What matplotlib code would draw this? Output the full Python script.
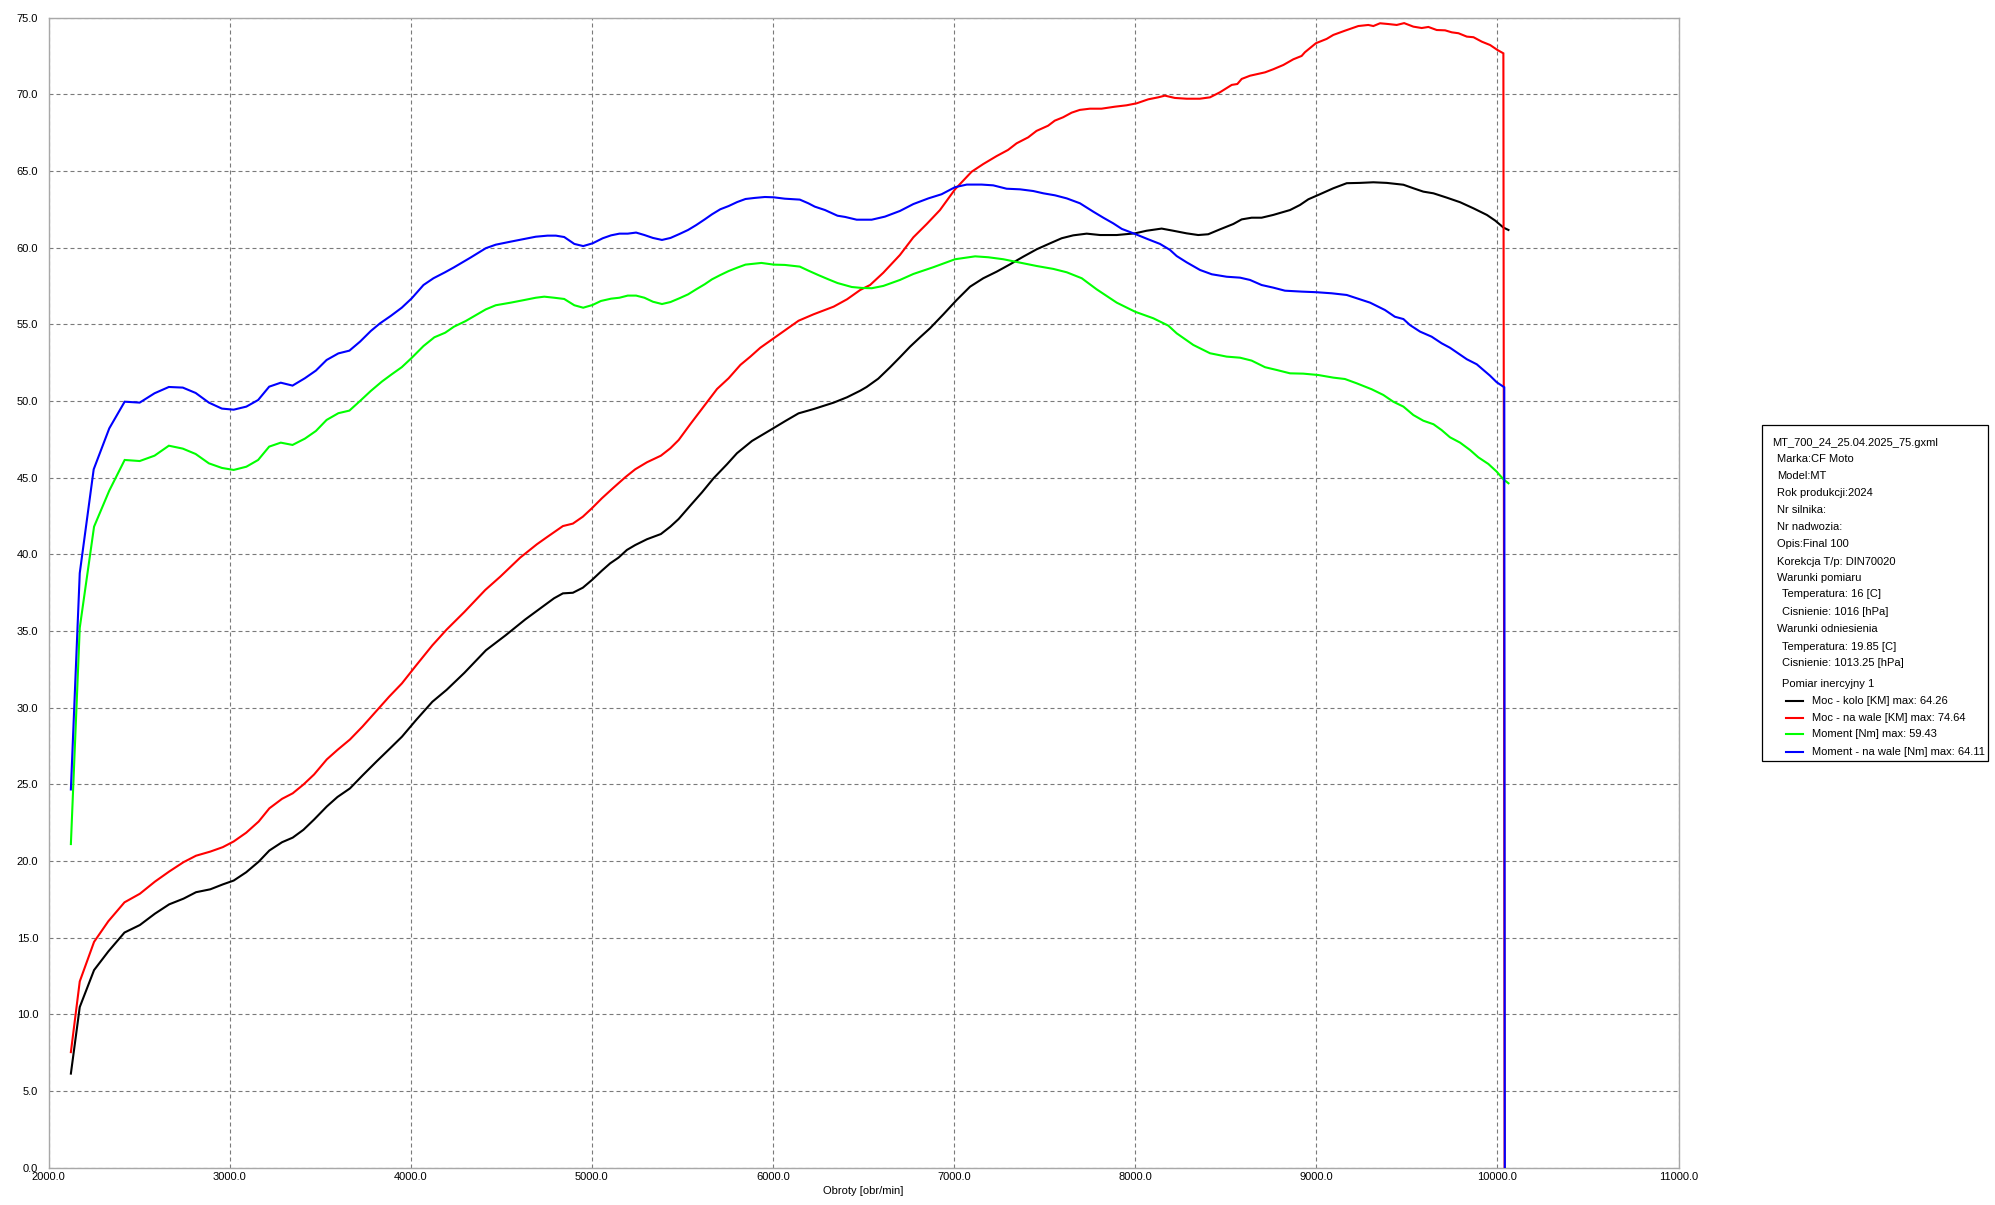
import matplotlib
matplotlib.use("Agg")
import matplotlib.pyplot as plt
from matplotlib.lines import Line2D
from matplotlib.patches import Rectangle
from matplotlib.ticker import MultipleLocator, FormatStrFormatter

plt.rcParams['font.family'] = ['Liberation Sans', 'DejaVu Sans']

# ---------------- data ----------------
black_rpm = [2123, 2172, 2251, 2330, 2419, 2504, 2587, 2666, 2745, 2814, 2893, 2962, 3022, 3091, 3160, 3219,
             3289, 3348, 3407, 3466, 3536, 3595, 3664, 3733, 3812, 3881, 3951, 4030, 4119, 4198, 4296, 4415,
             4524, 4632, 4731, 4791, 4840, 4895, 4950, 5000, 5055, 5101, 5147, 5193, 5239, 5304, 5381, 5433,
             5479, 5543, 5608, 5672, 5746, 5801, 5884, 5995, 6068, 6141, 6224, 6335, 6409, 6482, 6517, 6581,
             6646, 6701, 6757, 6812, 6867, 6941, 7014, 7088, 7161, 7235, 7309, 7382, 7456, 7530, 7594, 7658,
             7732, 7806, 7898, 7999, 8063, 8146, 8210, 8284, 8348, 8403, 8468, 8542, 8588, 8643, 8698, 8762,
             8855, 8910, 8956, 9020, 9094, 9168, 9241, 9315, 9389, 9481, 9536, 9591, 9647, 9720, 9794, 9868,
             9942, 9988, 10034, 10061]
black_val = [6.13, 10.47, 12.88, 14.1, 15.33, 15.82, 16.56, 17.17, 17.54, 17.96, 18.15, 18.47, 18.72, 19.26,
             19.95, 20.68, 21.22, 21.52, 22.03, 22.7, 23.55, 24.17, 24.73, 25.57, 26.5, 27.29, 28.1, 29.2,
             30.38, 31.16, 32.27, 33.74, 34.72, 35.75, 36.61, 37.13, 37.45, 37.49, 37.82, 38.32, 38.93, 39.41,
             39.78, 40.28, 40.6, 40.98, 41.32, 41.8, 42.3, 43.17, 44.04, 44.96, 45.87, 46.59, 47.39, 48.17,
             48.69, 49.19, 49.47, 49.89, 50.24, 50.67, 50.91, 51.45, 52.19, 52.85, 53.54, 54.15, 54.74, 55.65,
             56.58, 57.45, 58.0, 58.43, 58.91, 59.41, 59.89, 60.28, 60.61, 60.8, 60.91, 60.82, 60.82, 60.93,
             61.1, 61.24, 61.1, 60.93, 60.82, 60.87, 61.19, 61.54, 61.84, 61.95, 61.95, 62.13, 62.45, 62.78,
             63.15, 63.48, 63.87, 64.2, 64.22, 64.26, 64.22, 64.1, 63.87, 63.65, 63.54, 63.26, 62.96, 62.56,
             62.13, 61.76, 61.3, 61.15]

red_rpm = [2123, 2172, 2251, 2330, 2419, 2504, 2587, 2666, 2745, 2814, 2893, 2962, 3022, 3091, 3160, 3219,
           3289, 3348, 3407, 3466, 3536, 3595, 3664, 3733, 3812, 3881, 3951, 4030, 4119, 4198, 4296, 4411,
           4494, 4604, 4696, 4751, 4840, 4895, 4950, 5000, 5055, 5119, 5184, 5239, 5304, 5381, 5433, 5479,
           5543, 5617, 5691, 5755, 5820, 5875, 5930, 6003, 6068, 6141, 6224, 6335, 6409, 6482, 6536, 6609,
           6701, 6775, 6849, 6922, 7005, 7097, 7161, 7235, 7298, 7345, 7409, 7455, 7519, 7556, 7602, 7649,
           7694, 7750, 7814, 7888, 7952, 8008, 8072, 8127, 8164, 8219, 8284, 8357, 8413, 8468, 8533, 8564,
           8588, 8634, 8717, 8762, 8818, 8873, 8919, 8937, 8998, 9057, 9094, 9159, 9232, 9287, 9315, 9352,
           9398, 9444, 9485, 9536, 9582, 9619, 9665, 9711, 9748, 9785, 9831, 9868, 9914, 9960, 10000, 10033,
           10040]
red_val = [7.53, 12.14, 14.72, 16.07, 17.3, 17.86, 18.65, 19.31, 19.92, 20.34, 20.61, 20.9, 21.27, 21.84,
           22.57, 23.43, 24.05, 24.41, 24.98, 25.64, 26.62, 27.24, 27.92, 28.76, 29.81, 30.72, 31.58, 32.76,
           34.06, 35.09, 36.24, 37.67, 38.54, 39.78, 40.65, 41.11, 41.84, 42.0, 42.45, 43.0, 43.65, 44.34,
           45.02, 45.54, 46.0, 46.43, 46.91, 47.45, 48.48, 49.63, 50.78, 51.48, 52.35, 52.89, 53.47, 54.08,
           54.63, 55.23, 55.65, 56.15, 56.63, 57.24, 57.56, 58.36, 59.52, 60.67, 61.54, 62.45, 63.8, 64.95,
           65.45, 65.97, 66.37, 66.8, 67.19, 67.61, 67.95, 68.28, 68.5, 68.8, 68.98, 69.06, 69.06, 69.19,
           69.28, 69.41, 69.67, 69.8, 69.91, 69.76, 69.71, 69.71, 69.8, 70.13, 70.61, 70.67, 71.0, 71.21,
           71.43, 71.63, 71.91, 72.28, 72.5, 72.74, 73.33, 73.61, 73.87, 74.15, 74.45, 74.52, 74.45, 74.63,
           74.58, 74.52, 74.64, 74.41, 74.32, 74.39, 74.19, 74.17, 74.04, 73.98, 73.76, 73.72, 73.43, 73.21,
           72.89, 72.67, 0.0]

green_rpm = [2123, 2172, 2251, 2335, 2420, 2503, 2585, 2664, 2741, 2812, 2885, 2957, 3022, 3092, 3157, 3218,
             3282, 3347, 3415, 3476, 3535, 3600, 3661, 3720, 3779, 3840, 3895, 3950, 4006, 4070, 4130, 4190,
             4238, 4303, 4414, 4469, 4552, 4626, 4690, 4737, 4792, 4847, 4903, 4952, 5004, 5050, 5106, 5152,
             5198, 5244, 5290, 5337, 5387, 5434, 5484, 5531, 5576, 5623, 5663, 5709, 5755, 5802, 5848, 5936,
             6004, 6065, 6148, 6195, 6250, 6306, 6356, 6435, 6490, 6545, 6609, 6701, 6775, 6885, 7005, 7116,
             7189, 7272, 7364, 7456, 7548, 7622, 7705, 7787, 7898, 7999, 8100, 8183, 8229, 8321, 8413, 8505,
             8579, 8643, 8717, 8781, 8855, 8928, 9011, 9094, 9158, 9223, 9306, 9370, 9425, 9481, 9536, 9591,
             9647, 9692, 9738, 9794, 9849, 9895, 9950, 9996, 10033, 10061]
green_val = [21.1, 35.2, 41.8, 44.15, 46.15, 46.08, 46.43, 47.08, 46.89, 46.54, 45.93, 45.63, 45.5, 45.71,
             46.15, 47.02, 47.28, 47.13, 47.54, 48.04, 48.76, 49.2, 49.37, 50.0, 50.65, 51.26, 51.74, 52.2,
             52.82, 53.58, 54.15, 54.45, 54.84, 55.21, 55.97, 56.24, 56.41, 56.58, 56.73, 56.8, 56.73, 56.65,
             56.24, 56.08, 56.26, 56.52, 56.67, 56.73, 56.87, 56.87, 56.73, 56.47, 56.32, 56.45, 56.7, 56.95,
             57.28, 57.61, 57.93, 58.21, 58.47, 58.69, 58.89, 59.0, 58.89, 58.87, 58.76, 58.5, 58.21, 57.93,
             57.69, 57.43, 57.37, 57.35, 57.5, 57.89, 58.28, 58.72, 59.24, 59.43, 59.37, 59.24, 59.02, 58.8,
             58.61, 58.39, 58.0, 57.28, 56.41, 55.82, 55.39, 54.91, 54.41, 53.65, 53.11, 52.89, 52.82, 52.63,
             52.2, 52.02, 51.8, 51.78, 51.69, 51.52, 51.43, 51.15, 50.76, 50.39, 49.95, 49.63, 49.08, 48.71,
             48.48, 48.1, 47.63, 47.28, 46.8, 46.32, 45.89, 45.39, 44.89, 44.63]

blue_rpm = [2123, 2172, 2249, 2335, 2420, 2503, 2585, 2664, 2741, 2812, 2885, 2957, 3022, 3092, 3157, 3218,
            3282, 3347, 3415, 3476, 3535, 3600, 3661, 3720, 3779, 3830, 3890, 3950, 4005, 4070, 4125, 4189,
            4238, 4330, 4414, 4469, 4552, 4626, 4690, 4755, 4801, 4847, 4903, 4952, 5004, 5060, 5106, 5152,
            5198, 5244, 5290, 5337, 5387, 5434, 5484, 5531, 5576, 5623, 5663, 5709, 5755, 5802, 5848, 5899,
            5955, 6004, 6065, 6148, 6195, 6231, 6287, 6356, 6398, 6462, 6545, 6618, 6701, 6775, 6858, 6931,
            7005, 7070, 7152, 7216, 7290, 7364, 7437, 7493, 7557, 7622, 7695, 7769, 7824, 7879, 7926, 7999,
            8072, 8137, 8192, 8229, 8284, 8358, 8423, 8505, 8579, 8634, 8698, 8762, 8827, 8919, 9002, 9085,
            9168, 9223, 9297, 9379, 9434, 9481, 9517, 9573, 9637, 9692, 9738, 9831, 9886, 9959, 9996, 10038,
            10041]
blue_val = [24.66, 38.77, 45.54, 48.21, 49.95, 49.89, 50.5, 50.91, 50.87, 50.52, 49.89, 49.5, 49.43, 49.63,
            50.06, 50.93, 51.19, 51.0, 51.48, 51.98, 52.67, 53.1, 53.28, 53.87, 54.56, 55.06, 55.55, 56.08,
            56.69, 57.56, 58.0, 58.39, 58.71, 59.35, 59.96, 60.19, 60.39, 60.56, 60.71, 60.78, 60.78, 60.69,
            60.24, 60.1, 60.28, 60.61, 60.8, 60.91, 60.91, 60.98, 60.82, 60.63, 60.5, 60.63, 60.89, 61.15,
            61.47, 61.84, 62.17, 62.5, 62.71, 62.97, 63.17, 63.24, 63.3, 63.28, 63.19, 63.13, 62.89, 62.67,
            62.45, 62.08, 62.0, 61.82, 61.82, 62.02, 62.39, 62.84, 63.21, 63.48, 63.94, 64.11, 64.11, 64.06,
            63.84, 63.8, 63.69, 63.54, 63.41, 63.21, 62.89, 62.34, 61.95, 61.58, 61.22, 60.89, 60.54, 60.24,
            59.85, 59.45, 59.04, 58.54, 58.26, 58.1, 58.04, 57.89, 57.56, 57.39, 57.19, 57.13, 57.09, 57.02,
            56.91, 56.7, 56.41, 55.93, 55.49, 55.34, 54.95, 54.52, 54.19, 53.76, 53.47, 52.72, 52.39, 51.65,
            51.22, 50.89, 0.0]

series_labels = ["Moc - kolo [KM] max: 64.26", "Moc - na wale [KM] max: 74.64",
                 "Moment [Nm] max: 59.43", "Moment - na wale [Nm] max: 64.11"]
series_colors = ["#000000", "#ff0000", "#00ff00", "#0000ff"]

info_lines = ["MT_700_24_25.04.2025_75.gxml", "Marka:CF Moto", "Model:MT", "Rok produkcji:2024",
              "Nr silnika:", "Nr nadwozia:", "Opis:Final 100", "Korekcja T/p: DIN70020",
              "Warunki pomiaru", "Temperatura: 16 [C]", "Cisnienie: 1016 [hPa]",
              "Warunki odniesienia", "Temperatura: 19.85 [C]", "Cisnienie: 1013.25 [hPa]",
              "Pomiar inercyjny 1"]
info_indent = [0, 1, 1, 1, 1, 1, 1, 1, 1, 2, 2, 1, 2, 2, 2]

x_label = "Obroty [obr/min]"

# ---------------- figure ----------------
W, H = 1995, 1205
fig = plt.figure(figsize=(W / 100, H / 100), dpi=100)
fig.patch.set_facecolor("white")

def fx(px):
    return px / W

def fy(py):
    return 1 - py / H

ax_left, ax_right, ax_top, ax_bottom = 48.6, 1678.5, 17.6, 1167.6
ax = fig.add_axes([fx(ax_left), fy(ax_bottom), fx(ax_right - ax_left), (ax_bottom - ax_top) / H])

for rpm, val, c in zip([black_rpm, red_rpm, green_rpm, blue_rpm],
                       [black_val, red_val, green_val, blue_val], series_colors):
    ax.plot(rpm, val, color=c, lw=1.5, solid_joinstyle="miter", zorder=3)

ax.set_xlim(2000, 11000)
ax.set_ylim(0, 75)
ax.xaxis.set_major_locator(MultipleLocator(1000))
ax.yaxis.set_major_locator(MultipleLocator(5))
ax.xaxis.set_major_formatter(FormatStrFormatter("%.1f"))
ax.yaxis.set_major_formatter(FormatStrFormatter("%.1f"))
ax.tick_params(axis="both", length=0, labelsize=8, colors="black")
ax.tick_params(axis="y", pad=7.5)
ax.tick_params(axis="x", pad=3)
ax.grid(True, color="#7a7a7a", linestyle=(0, (3.6, 2.7)), linewidth=0.8, zorder=1)
for s in ax.spines.values():
    s.set_color("#a8a8a8")
    s.set_linewidth(1.0)
ax.set_xlabel(x_label, fontsize=8, labelpad=3)

# ---------------- info / legend box ----------------
box_l, box_t, box_r, box_b = 1762.3, 425, 1988.3, 761
fig.patches.append(Rectangle((fx(box_l), fy(box_b)), fx(box_r - box_l), (box_b - box_t) / H,
                             transform=fig.transFigure, facecolor="white", edgecolor="black",
                             linewidth=0.9))
info_y = [442.7, 459.3, 476, 492.7, 510, 527.3, 544.3, 561.7, 578.3, 594.3, 611.7, 629, 646.7, 663.3, 684.3]
indent_x = [1771.7, 1776.7, 1781.7]
for txt, ind, yy in zip(info_lines, info_indent, info_y):
    fig.text(fx(indent_x[ind]), fy(yy), txt, fontsize=8, va="center", ha="left")

leg_y = [701, 717.7, 734.3, 751.7]
for lab, c, yy in zip(series_labels, series_colors, leg_y):
    fig.add_artist(Line2D([fx(1786), fx(1803.3)], [fy(yy), fy(yy)], color=c, lw=1.5,
                          transform=fig.transFigure))
    fig.text(fx(1811.7), fy(yy), lab, fontsize=8, va="center", ha="left")

fig.savefig("out.png", dpi=100)
